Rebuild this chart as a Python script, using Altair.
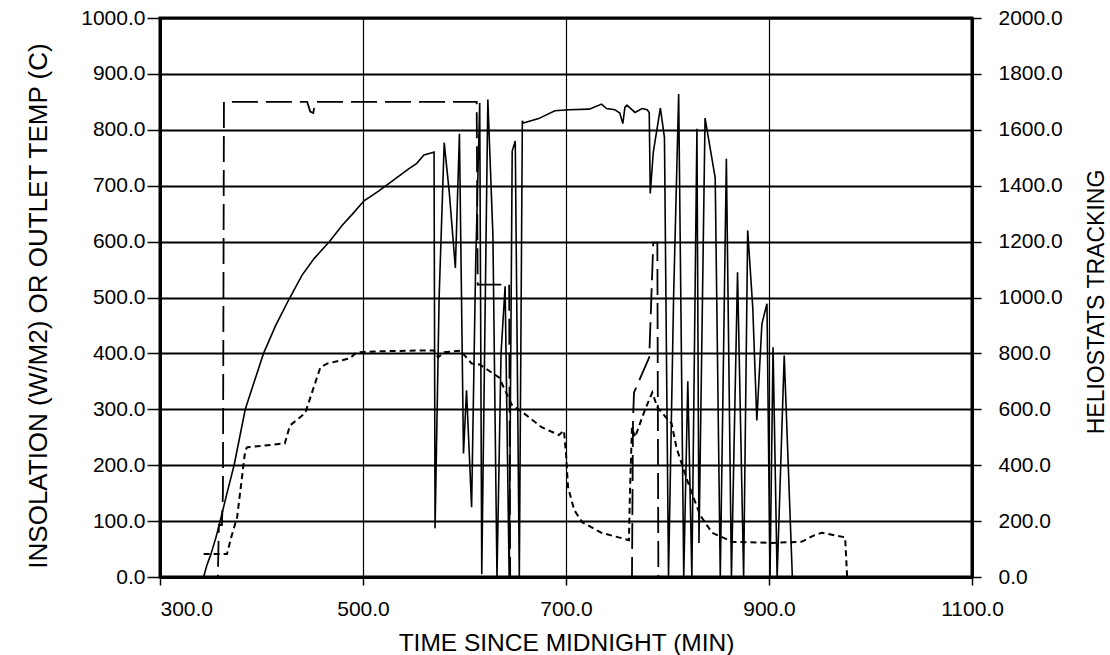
import altair as alt
import pandas as pd

# ---- data ----
ins_t = [300, 343, 346, 350, 355, 359, 366, 373, 384, 393, 402, 414, 428, 440, 452, 467, 480, 490,
         501, 515, 530, 545, 553, 560, 568, 570, 571, 575, 580, 585, 591, 595, 599, 602, 607, 611,
         615, 617, 623, 628, 632, 636, 640, 644, 647, 650, 654, 657, 658, 673, 689, 703, 723, 735,
         740, 748, 753, 756, 758, 760, 768, 775, 780, 782, 783, 786, 793, 797, 801, 806, 811, 816,
         820, 824, 829, 831, 837, 847, 852, 858, 863, 869, 875, 879, 884, 888, 893, 898, 901, 904,
         908, 915, 923, 975]
ins_v = [0, 0, 20, 40, 70, 98, 150, 200, 300, 350, 400, 450, 500, 540, 570, 600, 630, 650,
         673, 690, 710, 730, 740, 755, 759, 760, 87, 500, 777, 688, 553, 793, 221, 334, 125, 560,
         848, 5, 854, 611, 0, 400, 520, 0, 762, 780, 0, 816, 812, 820, 834, 836, 837, 846,
         838, 836, 830, 811, 840, 844, 831, 838, 836, 831, 686, 760, 839, 786, 0, 500, 864, 0,
         350, 0, 802, 61, 821, 714, 0, 748, 0, 545, 0, 620, 482, 280, 453, 489, 0, 411,
         0, 396, 0, 0]

temp_t = [343, 366, 370, 376, 384, 386, 423, 428, 443, 458, 465, 487, 494, 520, 553, 570, 574,
          580, 596, 607, 615, 634, 647, 657, 676, 693, 698, 700, 702, 708, 716, 735, 762, 763,
          765, 768, 778, 785, 790, 801, 804, 809, 820, 832, 844, 864, 903, 932, 945, 952, 975, 977]
temp_v = [41, 41, 70, 107, 227, 232, 239, 271, 293, 375, 382, 391, 402, 404, 405, 405, 393,
          402, 405, 382, 380, 357, 307, 295, 268, 254, 262, 221, 161, 120, 98, 79, 66, 150,
          268, 250, 300, 330, 304, 280, 275, 230, 170, 111, 79, 63, 61, 63, 75, 79, 71, 0]

hel_t = [300, 357, 358, 361, 362, 363, 445, 448, 451, 453, 612, 613, 644, 645, 765, 766, 767,
         782, 786, 790, 791, 920]
hel_v = [0, 0, 186, 186, 300, 1700, 1700, 1665, 1660, 1700, 1700, 1046, 1046, 0, 0, 560, 660,
         786, 1196, 1196, 0, 0]

x_ticks = [300, 500, 700, 900, 1100]
left_ticks = list(range(0, 1001, 100))
right_ticks = list(range(0, 2001, 200))

FONT = "Liberation Sans"
W, H = 812, 559

ins_df = pd.DataFrame({"t": ins_t, "v": ins_v})
temp_df = pd.DataFrame({"t": temp_t, "v": temp_v})
hel_df = pd.DataFrame({"t": hel_t, "v": hel_v})

xscale = alt.Scale(domain=[300, 1100], nice=False, zero=False)
xaxis = alt.Axis(values=x_ticks, format=".1f", grid=True, gridWidth=1.2, tickSize=8, labelPadding=13,
                 labelAlign=alt.expr("datum.value == 300 ? 'left' : 'center'"),
                 title="TIME SINCE MIDNIGHT (MIN)", titleFontSize=24.5,
                 titleX=W / 2, titleY=73, titleBaseline="alphabetic", titleAlign="center")
yscale = alt.Scale(domain=[0, 1000], nice=False)
yaxis = alt.Axis(values=left_ticks, format=".1f", grid=True, gridWidth=1.8, tickSize=13, labelPadding=2,
                 title="INSOLATION (W/M2) OR OUTLET TEMP (C)", titleFontSize=26,
                 titleAngle=270, titleX=-122, titleY=H / 2 + 8, titleBaseline="middle",
                 titleAlign="center")
rscale = alt.Scale(domain=[0, 2000], nice=False)
raxis = alt.Axis(values=right_ticks, format=".1f", grid=False, tickSize=9, labelPadding=17,
                 orient="right", title="HELIOSTATS TRACKING", titleFontSize=23,
                 titleAngle=270, titleX=124, titleY=H / 2 + 4, titleBaseline="middle",
                 titleAlign="center")

ins = alt.Chart(ins_df).mark_line(color="black", strokeWidth=1.6, clip=True).encode(
    x=alt.X("t:Q", scale=xscale, axis=xaxis),
    y=alt.Y("v:Q", scale=yscale, axis=yaxis),
)
temp = alt.Chart(temp_df).mark_line(color="black", strokeWidth=2, strokeDash=[6, 4], clip=True).encode(
    x=alt.X("t:Q", scale=xscale),
    y=alt.Y("v:Q", scale=yscale),
)
hel = alt.Chart(hel_df).mark_line(color="black", strokeWidth=1.8, strokeDash=[26, 8], clip=True).encode(
    x=alt.X("t:Q", scale=xscale),
    y=alt.Y("v:Q", scale=rscale, axis=raxis),
)

left = alt.layer(ins, temp)
chart = alt.layer(left, hel).resolve_scale(y="independent").properties(
    width=W, height=H,
    autosize=alt.AutoSizeParams(type="none"),
    padding={"left": 160, "top": 18, "right": 138, "bottom": 78},
    background="white",
).configure_view(
    stroke="black", strokeWidth=3
).configure_axis(
    domainColor="black", domainWidth=3, tickColor="black", tickWidth=1.5,
    gridColor="black", gridOpacity=1,
    labelFont=FONT, labelFontSize=21, labelColor="black",
    titleFont=FONT, titleFontWeight="normal", titleColor="black",
)

chart.save("out.html", embed_options={"renderer": "svg", "actions": False})
